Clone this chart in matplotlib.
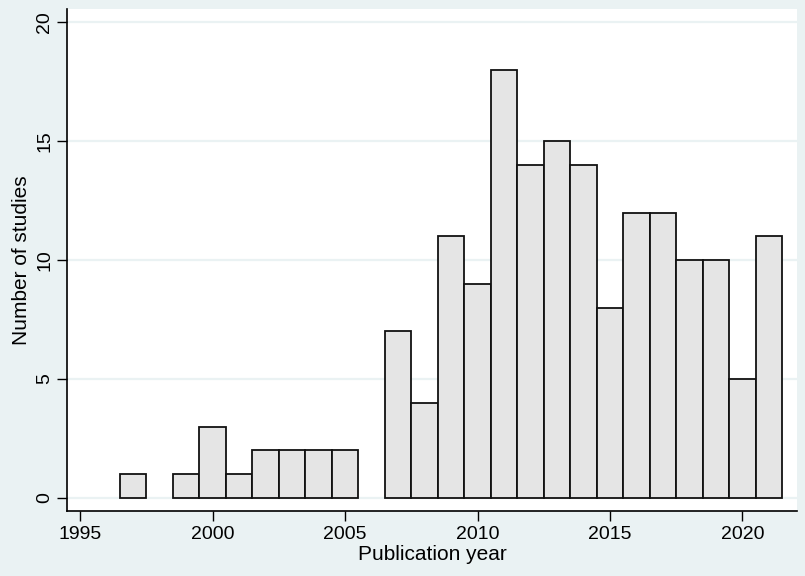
import matplotlib
matplotlib.use("Agg")
import matplotlib.pyplot as plt
import numpy as np

# publication counts by year
years = [1997, 1999, 2000, 2001, 2002, 2003, 2004, 2005, 2007, 2008, 2009, 2010,
         2011, 2012, 2013, 2014, 2015, 2016, 2017, 2018, 2019, 2020, 2021]
counts = [1, 1, 3, 1, 2, 2, 2, 2, 7, 4, 11, 9,
          18, 14, 15, 14, 8, 12, 12, 10, 10, 5, 11]
xticks = [1995, 2000, 2005, 2010, 2015, 2020]
yticks = [0, 5, 10, 15, 20]

bg = "#eaf2f3"
plt.rcParams['font.family'] = ['Liberation Sans', 'DejaVu Sans']

fig = plt.figure(figsize=(8.05, 5.76), dpi=100, facecolor=bg)
ax = fig.add_axes([0.0832, 0.1128, 0.9068, 0.8712])
ax.set_facecolor("white")

for y in yticks:
    ax.axhline(y, color=bg, lw=1.6, zorder=0)

ax.bar(years, counts, width=1.0, color="#e5e5e5", edgecolor="#111111",
       linewidth=1.3, zorder=2)

ax.set_xlim(1994.5, 2022.06)
ax.set_ylim(-0.55, 20.55)
ax.set_xticks(xticks)
ax.set_yticks(yticks)
ax.tick_params(axis='both', direction='out', length=7, width=1, labelsize=14,
               colors='black')
ax.tick_params(axis='y', labelrotation=90, pad=3)
for lab in ax.get_yticklabels():
    lab.set_va('center')

ax.spines['top'].set_visible(False)
ax.spines['right'].set_visible(False)
ax.spines['left'].set_linewidth(1.2)
ax.spines['bottom'].set_linewidth(1.2)

ax.set_xlabel("Publication year", fontsize=15, labelpad=2)
ax.set_ylabel("Number of studies", fontsize=15, labelpad=4)

fig.savefig("out.png", dpi=100, facecolor=bg)
